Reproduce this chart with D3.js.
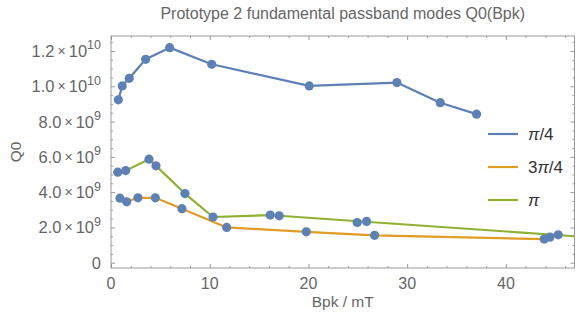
<!DOCTYPE html>
<html>
<head>
<meta charset="utf-8">
<script src="https://cdn.jsdelivr.net/npm/d3@7"></script>
<style>
  body { margin: 0; background: #fff; }
  text { font-family: "Liberation Sans", Arial, sans-serif; }
</style>
</head>
<body>
<div id="chart"></div>
<script>
// Prototype 2 fundamental passband modes Q0(Bpk)

// tick values and labels
var xTicks = [0, 10, 20, 30, 40];
var yTicks = [0, 2e9, 4e9, 6e9, 8e9, 1e10, 1.2e10];
var yTickMantissa = ["0", "2.0", "4.0", "6.0", "8.0", "1.0", "1.2"];
var yTickExponent = ["", "9", "9", "9", "9", "10", "10"];

// series names
var seriesNames = ["π/4", "3π/4", "π"];

// pi/4 line (measured points)
var bpkPi4 = [0.74, 1.14, 1.85, 3.51, 5.94, 10.2, 20.08, 28.96, 33.35, 37.03];
var q0Pi4 = [9.23e9, 1.002e10, 1.045e10, 1.153e10, 1.219e10, 1.125e10, 1.002e10, 1.021e10, 9.07e9, 8.42e9];

// 3pi/4 line
var bpk3Pi4 = [0.91, 1.59, 2.73, 4.49, 7.19, 11.72, 19.78, 26.7, 43.88];
var q03Pi4 = [3.66e9, 3.45e9, 3.68e9, 3.68e9, 3.06e9, 2.0e9, 1.75e9, 1.55e9, 1.34e9];

// pi line
var bpkPi = [0.68, 1.49, 3.85, 4.56, 7.49, 10.33, 16.13, 17.04, 47.5];
var q0Pi = [5.13e9, 5.22e9, 5.87e9, 5.49e9, 3.92e9, 2.59e9, 2.70e9, 2.66e9, 1.48e9];

// measured dots for the lower modes
var dotBpk = [0.68, 1.49, 3.85, 4.56, 7.49, 10.33, 16.13, 17.04, 24.94, 25.89,
              0.91, 1.59, 2.73, 4.49, 7.19, 11.72, 19.78, 26.7, 43.88, 44.46, 45.3];
var dotQ0 = [5.13e9, 5.22e9, 5.87e9, 5.49e9, 3.92e9, 2.59e9, 2.70e9, 2.66e9, 2.28e9, 2.34e9,
             3.66e9, 3.45e9, 3.68e9, 3.68e9, 3.06e9, 2.0e9, 1.75e9, 1.55e9, 1.34e9, 1.45e9, 1.58e9];

var svgWidth = 580;
var svgHeight = 322;
var margin = { top: 36, right: 5.5, bottom: 54, left: 111 };
var chartWidth = svgWidth - margin.left - margin.right;
var chartHeight = svgHeight - margin.top - margin.bottom;

var colors = ["#5E81B5", "#E19C24", "#8FB032"];
var frameColor = "#999";
var textColor = "#666";

var svg = d3.select("#chart").append("svg")
  .attr("width", svgWidth)
  .attr("height", svgHeight);

var g = svg.append("g")
  .attr("transform", `translate(${margin.left}, ${margin.top})`);

var xScale = d3.scaleLinear().domain([0, 46.95]).range([0, chartWidth]);
var yScale = d3.scaleLinear().domain([-0.3e9, 1.285e10]).range([chartHeight, 0]);

g.append("clipPath").attr("id", "clip")
  .append("rect").attr("width", chartWidth).attr("height", chartHeight);

// ticks on all four sides, pointing inward
var xMinor = d3.range(0, 47, 2).filter(v => xTicks.indexOf(v) < 0);
var yMinor = d3.range(0, 1.28e10, 0.5e9).filter(v => yTicks.indexOf(v) < 0);

function tickAxis(axisFn, scale, ticks, size) {
  return axisFn(scale).tickValues(ticks).tickSize(size).tickFormat("");
}

var axes = [
  [d3.axisBottom, xScale, `translate(0, ${chartHeight})`],
  [d3.axisTop, xScale, "translate(0, 0)"],
  [d3.axisLeft, yScale, "translate(0, 0)"],
  [d3.axisRight, yScale, `translate(${chartWidth}, 0)`]
];
axes.forEach(function(a, i) {
  var isX = i < 2;
  var majors = isX ? xTicks : yTicks;
  var minors = isX ? xMinor : yMinor;
  [[majors, 4], [minors, 2]].forEach(function(t) {
    var ax = g.append("g")
      .attr("transform", a[2])
      .call(tickAxis(a[0], a[1], t[0], -t[1]));
    ax.select(".domain").remove();
    ax.selectAll("line").attr("stroke", frameColor);
  });
});

// frame
g.append("rect")
  .attr("width", chartWidth)
  .attr("height", chartHeight)
  .attr("fill", "none")
  .attr("stroke", frameColor)
  .attr("stroke-width", 1);

// x tick labels
g.selectAll(".xlab")
  .data(xTicks)
  .enter()
  .append("text")
  .attr("x", d => xScale(d))
  .attr("y", chartHeight + 20.5)
  .attr("text-anchor", "middle")
  .attr("font-size", "16px")
  .attr("fill", textColor)
  .text(d => d);

// y tick labels with power of ten
var ylab = g.selectAll(".ylab")
  .data(yTicks)
  .enter()
  .append("text")
  .attr("x", -10)
  .attr("y", d => yScale(d) + 6)
  .attr("text-anchor", "end")
  .attr("font-size", "16.5px")
  .attr("fill", textColor);

ylab.each(function(d, i) {
  var t = d3.select(this);
  t.append("tspan").text(yTickMantissa[i]);
  if (yTickExponent[i]) {
    t.append("tspan").attr("font-size", "14px").attr("dx", 3).attr("dy", -1).text("×");
    t.append("tspan").attr("font-size", "16.5px").attr("dx", 3).attr("dy", 1).text("10");
    t.append("tspan").attr("font-size", "12.5px").attr("dy", -7.5).text(yTickExponent[i]);
  }
});

// lines
var lineSets = [
  [bpkPi4, q0Pi4],
  [bpk3Pi4, q03Pi4],
  [bpkPi, q0Pi]
];
var line = d3.line()
  .x(d => xScale(d[0]))
  .y(d => yScale(d[1]));

var plotArea = g.append("g").attr("clip-path", "url(#clip)");

lineSets.forEach(function(s, i) {
  var pts = s[0].map((x, j) => [x, s[1][j]]);
  plotArea.append("path")
    .datum(pts)
    .attr("d", line)
    .attr("fill", "none")
    .attr("stroke", colors[i])
    .attr("stroke-width", 2.2)
    .attr("stroke-linejoin", "round");
});

// dots (all drawn in the first colour)
var dots = bpkPi4.map((x, j) => [x, q0Pi4[j]])
  .concat(dotBpk.map((x, j) => [x, dotQ0[j]]));

plotArea.selectAll("circle")
  .data(dots)
  .enter()
  .append("circle")
  .attr("cx", d => xScale(d[0]))
  .attr("cy", d => yScale(d[1]))
  .attr("r", 4.6)
  .attr("fill", colors[0]);

// legend
var legend = svg.append("g").attr("transform", "translate(488, 134)");
seriesNames.forEach(function(name, i) {
  var row = legend.append("g").attr("transform", `translate(0, ${[0, 33, 66][i]})`);
  row.append("line")
    .attr("x1", 0).attr("x2", 30)
    .attr("stroke", colors[i])
    .attr("stroke-width", 2.2);
  var t = row.append("text")
    .attr("x", 40)
    .attr("y", 6)
    .attr("font-size", "17px")
    .attr("fill", "#333");
  var parts = name.split("π");
  if (parts[0]) t.append("tspan").text(parts[0]);
  t.append("tspan").attr("font-style", "italic").text("π");
  if (parts[1]) t.append("tspan").text(parts[1]);
});

// title and axis labels
svg.append("text")
  .attr("x", margin.left + chartWidth / 2)
  .attr("y", 19)
  .attr("text-anchor", "middle")
  .attr("font-size", "16px")
  .attr("fill", textColor)
  .text("Prototype 2 fundamental passband modes Q0(Bpk)");

svg.append("text")
  .attr("x", margin.left + chartWidth / 2)
  .attr("y", 307)
  .attr("text-anchor", "middle")
  .attr("font-size", "15.5px")
  .attr("fill", textColor)
  .text("Bpk / mT");

svg.append("text")
  .attr("transform", `translate(21, ${margin.top + chartHeight / 2}) rotate(-90)`)
  .attr("text-anchor", "middle")
  .attr("font-size", "15.5px")
  .attr("fill", textColor)
  .text("Q0");
</script>
</body>
</html>
